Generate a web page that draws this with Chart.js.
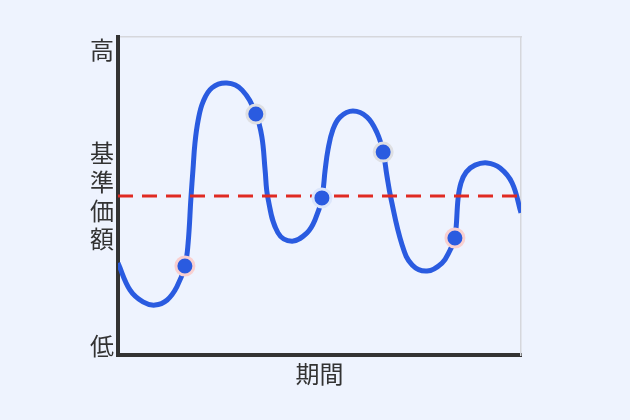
<!DOCTYPE html>
<html>
<head>
<meta charset="utf-8">
<script src="https://cdn.jsdelivr.net/npm/chart.js@4.4.1/dist/chart.umd.min.js"></script>
<style>
  html, body { margin: 0; padding: 0; background: #eef3fe; }
  #wrap { width: 630px; height: 420px; position: relative; }
</style>
</head>
<body>
<div id="wrap"><canvas id="c"></canvas></div>
<script>
// Curve (period vs. NAV), 0-100 scales
const curveX = [0, 3.0, 6.2, 9.2, 12.2, 14.6, 16.6, 17.4, 18.1, 18.6, 19.1, 19.9, 21.1, 23.3, 27.0, 30.8,
  34.2, 35.7, 36.5, 37.2, 39.7, 43.2, 46.9, 48.9, 50.6, 51.4, 52.1, 53.3, 55.1, 58.3, 61.8, 64.3,
  65.8, 66.7, 67.7, 70.5, 73.0, 76.7, 80.4, 82.4, 83.6, 84.4, 85.1, 86.4, 88.6, 91.6, 94.8, 97.8, 100];
const curveY = [28.9, 20.4, 16.7, 15.7, 17.3, 21.4, 28.0, 35.2, 49.4, 58.2, 66.7, 73.9, 79.6, 84.0, 85.5, 83.3,
  75.8, 68.6, 58.2, 49.4, 38.4, 35.8, 38.4, 42.5, 49.4, 58.2, 64.5, 70.8, 74.8, 76.7, 74.8, 69.8,
  63.8, 56.6, 49.4, 34.6, 28.3, 26.4, 28.9, 33.0, 36.8, 49.4, 54.1, 57.5, 59.7, 60.4, 58.8, 54.1, 44.7];
// Highlighted points on the curve
const markX = [16.6, 34.2, 50.6, 65.8, 83.6];
const markY = [28.0, 75.8, 49.4, 63.8, 36.8];
const markHalo = ['#f9d0d0', '#dedfe3', '#dce6fb', '#dedfe3', '#f9d0d0'];
// Reference (base price) level
const baseLevel = 50;
// Y tick labels
const yTickValues = [3, 50, 96];
const yTickLabels = ['低', ['基', '準', '価', '額'], '高'];
const xTitle = '期間';

const font = "'Noto Sans CJK JP', 'Noto Sans', sans-serif";

new Chart(document.getElementById('c'), {
  type: 'line',
  data: {
    datasets: [
      {
        data: markX.map((x, i) => ({ x, y: markY[i] })),
        showLine: false,
        pointRadius: 9,
        pointHoverRadius: 9,
        pointBackgroundColor: '#2a5be0',
        pointBorderColor: markHalo,
        pointBorderWidth: 3,
        order: 0
      },
      {
        data: curveX.map((x, i) => ({ x, y: curveY[i] })),
        borderColor: '#2a5be0',
        borderWidth: 5,
        tension: 0.4,
        pointRadius: 0,
        fill: false,
        order: 2
      },
      {
        data: [{ x: 0, y: baseLevel }, { x: 100, y: baseLevel }],
        borderColor: '#e02a22',
        borderWidth: 3,
        borderDash: [15, 9],
        pointRadius: 0,
        fill: false,
        order: 1
      }
    ]
  },
  options: {
    responsive: true,
    maintainAspectRatio: false,
    animation: false,
    events: [],
    layout: { padding: { left: 0, top: 37, right: 109, bottom: 0 } },
    plugins: { legend: { display: false }, tooltip: { enabled: false } },
    scales: {
      x: {
        type: 'linear', min: 0, max: 100,
        grid: { display: false, drawTicks: false },
        border: { display: true, color: '#333333', width: 4 },
        ticks: { display: false },
        title: { display: true, text: xTitle, color: '#333333', font: { family: font, size: 24 }, padding: { top: 0, bottom: 32 } },
        afterFit: (s) => { s.height = 65; }
      },
      xTop: {
        type: 'linear', position: 'top', min: 0, max: 100,
        grid: { display: false, drawTicks: false },
        border: { display: true, color: '#d6d7dc', width: 1.5 },
        ticks: { display: false },
        afterFit: (s) => { s.height = 0; }
      },
      y: {
        type: 'linear', min: 0, max: 100,
        grid: { display: false, drawTicks: false },
        border: { display: true, color: '#333333', width: 4 },
        afterBuildTicks: (s) => { s.ticks = yTickValues.map(v => ({ value: v })); },
        ticks: {
          color: '#333333', padding: 4,
          font: { family: font, size: 24, lineHeight: 1.2 },
          callback: (v) => yTickLabels[yTickValues.indexOf(v)]
        },
        afterFit: (s) => { s.width = 118; }
      },
      yRight: {
        type: 'linear', position: 'right', min: 0, max: 100,
        grid: { display: false, drawTicks: false },
        border: { display: true, color: '#d6d7dc', width: 1.5 },
        ticks: { display: false },
        afterFit: (s) => { s.width = 0; }
      }
    }
  }
});
</script>
</body>
</html>
